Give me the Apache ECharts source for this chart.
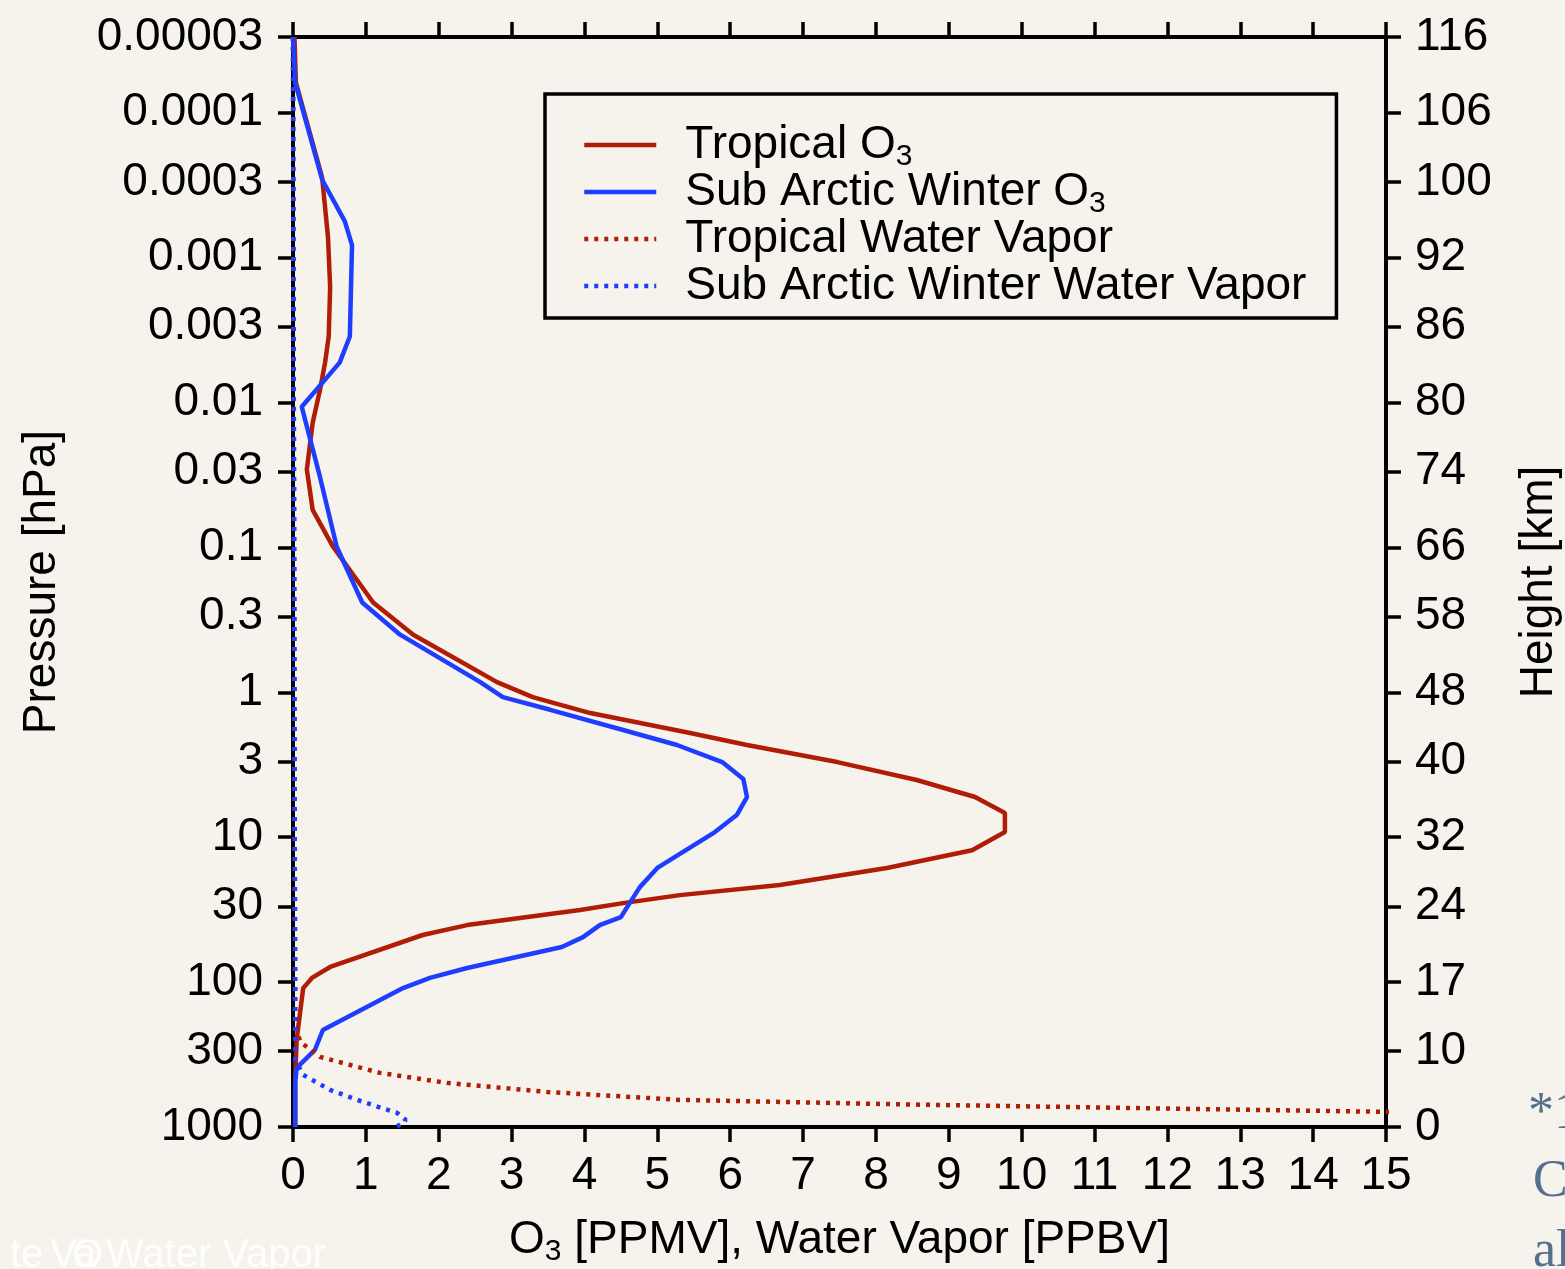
<!DOCTYPE html>
<html><head><meta charset="utf-8">
<script src="https://cdn.jsdelivr.net/npm/echarts@6/dist/echarts.min.js"></script>
<style>html,body{margin:0;padding:0;background:#f6f3ec;} #c{width:1565px;height:1269px;}</style>
</head><body><div id="c"></div>
<script>
// ---- Data ----
const PRESSURE_TICKS  = [0.00003, 0.0001, 0.0003, 0.001, 0.003, 0.01, 0.03, 0.1, 0.3, 1, 3, 10, 30, 100, 300, 1000];
const PRESSURE_LABELS = ['0.00003','0.0001','0.0003','0.001','0.003','0.01','0.03','0.1','0.3','1','3','10','30','100','300','1000'];
const HEIGHT_LABELS   = ['116','106','100','92','86','80','74','66','58','48','40','32','24','17','10','0'];
const X_MIN = 0, X_MAX = 15, X_STEP = 1;

const SERIES_NAMES = ['Tropical O3', 'Sub Arctic Winter O3', 'Tropical Water Vapor', 'Sub Arctic Winter Water Vapor'];

// Tropical O3 [PPMV] vs pressure [hPa]
const TROP_O3_P = [0.00003, 0.000062, 0.00028, 0.00072, 0.0016, 0.0035, 0.0053, 0.0082, 0.0138, 0.029, 0.055, 0.099, 0.24, 0.40, 0.85, 1.08, 1.39, 1.91, 2.31, 3.03, 4.03, 5.28, 6.8, 9.2, 12.3, 16.3, 21.4, 25.1, 28.5, 31.8, 40.4, 47.3, 78.6, 93.6, 110, 250, 473, 1000];
const TROP_O3   = [0.02, 0.04, 0.40, 0.48, 0.51, 0.49, 0.44, 0.37, 0.27, 0.19, 0.27, 0.55, 1.10, 1.65, 2.80, 3.29, 4.08, 5.45, 6.23, 7.47, 8.56, 9.36, 9.77, 9.77, 9.32, 8.15, 6.68, 5.31, 4.53, 3.94, 2.39, 1.78, 0.51, 0.26, 0.14, 0.05, 0.03, 0.03];

// Sub Arctic Winter O3 [PPMV]
const SAW_O3_P = [0.00003, 0.000062, 0.00029, 0.00056, 0.00082, 0.0035, 0.0053, 0.0107, 0.0326, 0.099, 0.24, 0.40, 0.85, 1.08, 1.32, 1.82, 2.31, 3.03, 3.96, 5.28, 7.03, 9.21, 16.3, 22.1, 28.5, 35.6, 40.4, 48.9, 57.2, 79.9, 93.6, 110, 214, 294, 333, 391, 496, 1000];
const SAW_O3   = [0.0, 0.03, 0.40, 0.71, 0.81, 0.78, 0.64, 0.12, 0.37, 0.60, 0.95, 1.47, 2.57, 2.88, 3.53, 4.53, 5.27, 5.89, 6.18, 6.23, 6.09, 5.79, 5.00, 4.76, 4.62, 4.50, 4.21, 3.98, 3.69, 2.39, 1.88, 1.51, 0.41, 0.30, 0.19, 0.05, 0.03, 0.03];

// Tropical Water Vapor [PPBV]
const TROP_WV_P = [0.00003, 197, 259, 328, 423, 496, 573, 650, 700, 750, 790, 1000];
const TROP_WV   = [0.0, 0.03, 0.10, 0.37, 1.19, 2.11, 3.49, 5.31, 8.5, 12.3, 15.3, 19.0];

// Sub Arctic Winter Water Vapor [PPBV]
const SAW_WV_P = [0.00003, 344, 437, 555, 671, 800, 894, 1000];
const SAW_WV   = [0.0, 0.03, 0.14, 0.51, 0.96, 1.43, 1.55, 1.42];

// ---- Chart ----
const FONT = '"Liberation Sans", Arial, Helvetica, sans-serif';
const RED = '#b01c06';
const BLUE = '#1f3dff';
const lg = Math.log10;
const TICK_LOGS = PRESSURE_TICKS.map(lg);
const Y_MIN = lg(PRESSURE_TICKS[0]) - 1e-9;
const Y_MAX = lg(PRESSURE_TICKS[PRESSURE_TICKS.length - 1]) + 1e-9;

function labelFor(list) {
  return function (v) {
    for (let i = 0; i < TICK_LOGS.length; i++) {
      if (Math.abs(TICK_LOGS[i] - v) < 1e-6) return list[i];
    }
    return '';
  };
}
function pairs(xs, ps) { return xs.map((x, i) => [x, lg(ps[i])]); }

const subRich = { s: { fontSize: 30, verticalAlign: 'bottom', fontFamily: FONT, color: '#000' } };
const axisLine = { show: true, onZero: false, lineStyle: { color: '#000', width: 4 } };
const axisTick = { show: true, inside: false, length: 15, lineStyle: { color: '#000', width: 3.5 } };

const chart = echarts.init(document.getElementById('c'), null, { renderer: 'canvas' });
chart.setOption({
  backgroundColor: '#f6f3ec',
  animation: false,
  textStyle: { fontFamily: FONT },
  grid: { left: 293, right: 179, top: 37, bottom: 142, containLabel: false, outerBoundsMode: 'none' },
  legend: {
    orient: 'vertical', left: 545, top: 94,
    padding: [24, 30, 5, 37],
    itemWidth: 72, itemHeight: 2, itemGap: -7,
    borderColor: '#000', borderWidth: 3.5, borderRadius: 0,
    backgroundColor: 'transparent',
    itemStyle: { opacity: 0 },
    lineStyle: { width: 4.5 },
    data: SERIES_NAMES,
    formatter: function (name) { return name.replace(/O3$/, 'O{s|3}'); },
    textStyle: { fontSize: 46, color: '#000', lineHeight: 54, fontFamily: FONT, padding: [0, 0, 0, 24], rich: subRich }
  },
  xAxis: [{
    type: 'value', position: 'bottom', min: X_MIN, max: X_MAX, interval: X_STEP,
    axisLine: axisLine, axisTick: axisTick, splitLine: { show: false },
    axisLabel: { fontSize: 46, color: '#000', margin: 26, fontFamily: FONT },
    name: 'O{s|3} [PPMV], Water Vapor [PPBV]', nameLocation: 'middle', nameGap: 86,
    nameTextStyle: { fontSize: 46, color: '#000', lineHeight: 54, fontFamily: FONT, rich: subRich }
  }, {
    type: 'value', position: 'top', min: X_MIN, max: X_MAX, interval: X_STEP,
    axisLine: axisLine, axisTick: axisTick, splitLine: { show: false },
    axisLabel: { show: false }
  }],
  yAxis: [{
    type: 'value', position: 'left', inverse: true, min: Y_MIN, max: Y_MAX,
    axisLine: axisLine, splitLine: { show: false },
    axisTick: Object.assign({ customValues: TICK_LOGS }, axisTick),
    axisLabel: { customValues: TICK_LOGS, formatter: labelFor(PRESSURE_LABELS), fontSize: 46, color: '#000', margin: 30, fontFamily: FONT },
    name: 'Pressure [hPa]', nameLocation: 'middle', nameRotate: 90, nameGap: 228,
    nameTextStyle: { fontSize: 46, color: '#000', fontFamily: FONT }
  }, {
    type: 'value', position: 'right', inverse: true, min: Y_MIN, max: Y_MAX,
    axisLine: axisLine, splitLine: { show: false },
    axisTick: Object.assign({ customValues: TICK_LOGS }, axisTick),
    axisLabel: { customValues: TICK_LOGS, formatter: labelFor(HEIGHT_LABELS), fontSize: 46, color: '#000', margin: 29, fontFamily: FONT },
    name: 'Height [km]', nameLocation: 'middle', nameRotate: 90, nameGap: 130,
    nameTextStyle: { fontSize: 46, color: '#000', fontFamily: FONT }
  }],
  series: [
    { name: SERIES_NAMES[0], type: 'line', xAxisIndex: 0, yAxisIndex: 0, symbol: 'none', data: pairs(TROP_O3, TROP_O3_P),
      lineStyle: { color: RED, width: 4.5 }, itemStyle: { color: RED } },
    { name: SERIES_NAMES[1], type: 'line', xAxisIndex: 0, yAxisIndex: 0, symbol: 'none', data: pairs(SAW_O3, SAW_O3_P),
      lineStyle: { color: BLUE, width: 4.5 }, itemStyle: { color: BLUE } },
    { name: SERIES_NAMES[2], type: 'line', xAxisIndex: 0, yAxisIndex: 0, symbol: 'none', data: pairs(TROP_WV, TROP_WV_P),
      lineStyle: { color: RED, width: 4.5, type: [4, 6] }, itemStyle: { color: RED } },
    { name: SERIES_NAMES[3], type: 'line', xAxisIndex: 0, yAxisIndex: 0, symbol: 'none', data: pairs(SAW_WV, SAW_WV_P),
      lineStyle: { color: BLUE, width: 4.5, type: [4, 6] }, itemStyle: { color: BLUE } }
  ],
  graphic: [
    { type: 'text', x: 10, y: 1236, silent: true, style: { text: 'te', fill: 'rgba(255,255,255,0.9)', font: '40px ' + FONT, align: 'left', verticalAlign: 'top' } },
    { type: 'text', x: 50, y: 1236, silent: true, style: { text: 'Va', fill: 'rgba(255,255,255,0.9)', font: '40px ' + FONT, align: 'left', verticalAlign: 'top' } },
    { type: 'text', x: 72, y: 1236, silent: true, style: { text: 'O', fill: 'rgba(255,255,255,0.9)', font: '40px ' + FONT, align: 'left', verticalAlign: 'top' } },
    { type: 'text', x: 106, y: 1236, silent: true, style: { text: 'Water Vapor', fill: 'rgba(255,255,255,0.9)', font: '40px ' + FONT, align: 'left', verticalAlign: 'top' } },
    { type: 'text', x: 1528, y: 1088, silent: true, style: { text: '*1', fill: '#55708f', font: '52px "Liberation Serif", serif', align: 'left', verticalAlign: 'top' } },
    { type: 'text', x: 1533, y: 1156, silent: true, style: { text: 'C', fill: '#55708f', font: '52px "Liberation Serif", serif', align: 'left', verticalAlign: 'top' } },
    { type: 'text', x: 1533, y: 1226, silent: true, style: { text: 'al', fill: '#55708f', font: '52px "Liberation Serif", serif', align: 'left', verticalAlign: 'top' } }
  ]
});
</script></body></html>
